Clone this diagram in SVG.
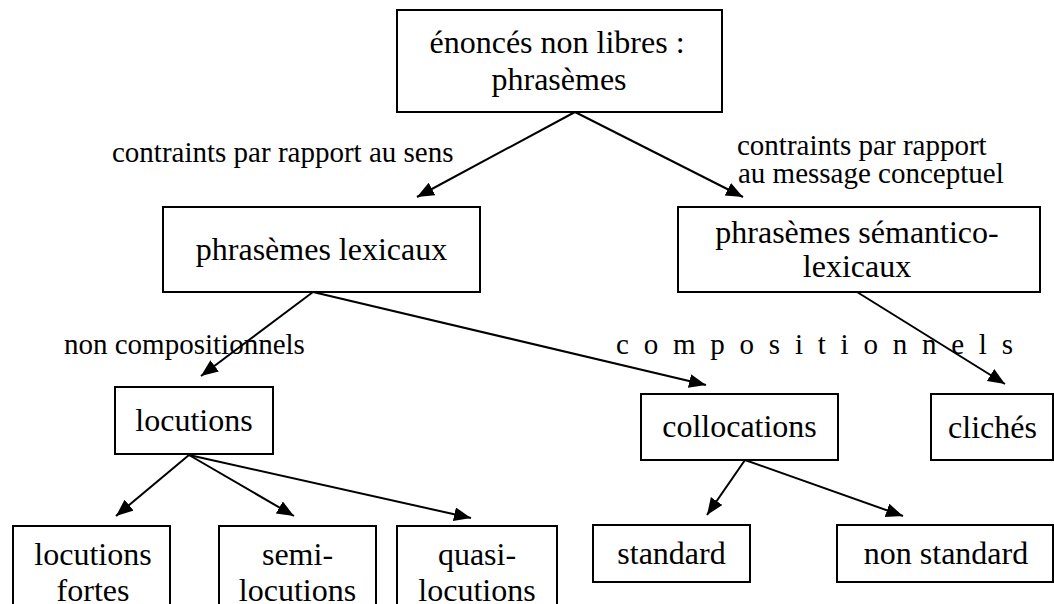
<svg xmlns="http://www.w3.org/2000/svg" width="1054" height="604" viewBox="0 0 1054 604">
<style>
rect.box{fill:#fff;stroke:#000;stroke-width:2}
text{fill:#000}
.nt{font-size:32px;text-anchor:middle}
.lb{font-size:29px}
.edge{stroke:#000;stroke-width:2;fill:none;marker-end:url(#ah)}
</style>
<defs>
<marker id="ah" markerUnits="userSpaceOnUse" markerWidth="18" markerHeight="15" refX="17" refY="7" orient="auto">
<path d="M0,0 L17,7 L0,14 z" fill="#000"/>
</marker>
</defs>
<rect width="1054" height="604" fill="#fff"/>
<g id="connectors">
<line class="edge" x1="575" y1="112" x2="417" y2="197"/>
<line class="edge" x1="575" y1="112" x2="743" y2="197"/>
<line class="edge" x1="313" y1="292" x2="201" y2="376"/>
<line class="edge" x1="313" y1="292" x2="706" y2="385"/>
<line class="edge" x1="857" y1="292" x2="1005" y2="384"/>
<line class="edge" x1="189" y1="455" x2="116" y2="516"/>
<line class="edge" x1="189" y1="455" x2="294" y2="516"/>
<line class="edge" x1="189" y1="455" x2="471" y2="518"/>
<line class="edge" x1="745" y1="460" x2="707" y2="515"/>
<line class="edge" x1="745" y1="460" x2="903" y2="516"/>
</g>
<g font-family="Liberation Serif, Times New Roman, serif">
<g id="labels">
<text class="lb" x="112" y="162">contraints par rapport au sens</text>
<text class="lb" x="737" y="155">contraints par rapport</text>
<text class="lb" x="738" y="183">au message conceptuel</text>
<text class="lb" x="64" y="354">non compositionnels</text>
<text class="lb" x="616" y="354" textLength="397" lengthAdjust="spacing">c o m p o s i t i o n n e l s</text>
</g>
<g id="n-top">
<rect class="box" x="397" y="10" width="325" height="102"/>
<text class="nt" x="557" y="53">énoncés non libres :</text>
<text class="nt" x="559" y="90">phrasèmes</text>
</g>
<g id="n-lex">
<rect class="box" x="163" y="207" width="317" height="85"/>
<text class="nt" x="321.5" y="260">phrasèmes lexicaux</text>
</g>
<g id="n-sem">
<rect class="box" x="678" y="207" width="362" height="85"/>
<text class="nt" x="857" y="243">phrasèmes sémantico-</text>
<text class="nt" x="857" y="277">lexicaux</text>
</g>
<g id="n-locutions">
<rect class="box" x="115" y="387" width="158" height="67"/>
<text class="nt" x="194" y="431">locutions</text>
</g>
<g id="n-collocations">
<rect class="box" x="641" y="394" width="197" height="66"/>
<text class="nt" x="739.5" y="437">collocations</text>
</g>
<g id="n-cliches">
<rect class="box" x="931" y="394" width="122" height="66"/>
<text class="nt" x="992.5" y="438">clichés</text>
</g>
<g id="n-fortes">
<rect class="box" x="13" y="526" width="157" height="100"/>
<text class="nt" x="93" y="565">locutions</text>
<text class="nt" x="93" y="601">fortes</text>
</g>
<g id="n-semi">
<rect class="box" x="219" y="526" width="157" height="100"/>
<text class="nt" x="297.5" y="565">semi-</text>
<text class="nt" x="297.5" y="601">locutions</text>
</g>
<g id="n-quasi">
<rect class="box" x="397" y="526" width="160" height="100"/>
<text class="nt" x="477" y="565">quasi-</text>
<text class="nt" x="477" y="601">locutions</text>
</g>
<g id="n-standard">
<rect class="box" x="593" y="525" width="157" height="57"/>
<text class="nt" x="671.5" y="564">standard</text>
</g>
<g id="n-nonstandard">
<rect class="box" x="837" y="525" width="216" height="57"/>
<text class="nt" x="946" y="564">non standard</text>
</g>
</g>
</svg>
